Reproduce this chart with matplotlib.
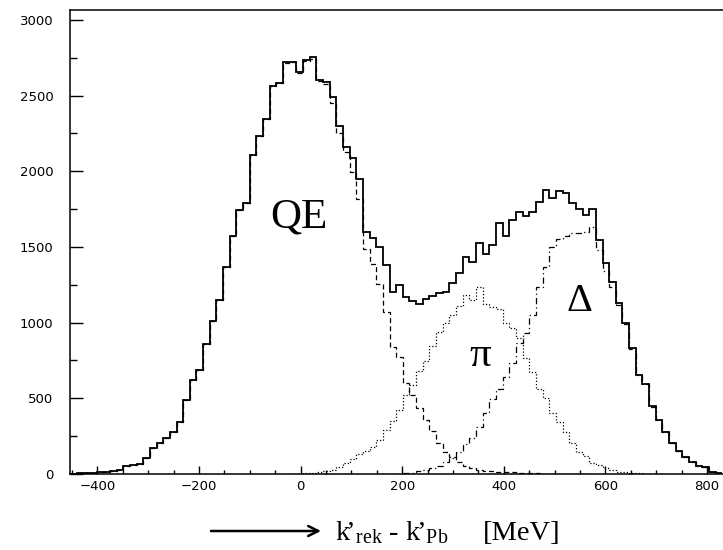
import numpy as np
import matplotlib
matplotlib.use("Agg")
import matplotlib.pyplot as plt
from matplotlib.ticker import MultipleLocator

# Histogram binning (MeV)
BIN_LO, BIN_HI = -454.0, 830.0

# Measured spectrum (counts per bin)
total = [
    3, 4, 4, 6,
    12, 15, 17,
    26,
    54, 58, 67,
    109, 169, 203, 236, 280, 346, 489, 623, 690,
    858, 1009, 1152, 1365, 1573, 1745, 1789, 2108, 2236, 2348,
    2566, 2582, 2720, 2724, 2655, 2736, 2755, 2606, 2590, 2493,
    2301, 2158, 2090, 1947, 1599, 1562, 1497, 1379, 1205, 1249,
    1168, 1142, 1125, 1158, 1178, 1193, 1205, 1262, 1326, 1436,
    1401, 1528, 1454, 1513, 1661, 1573, 1678, 1730, 1703, 1734,
    1799, 1879, 1825, 1872, 1855, 1793, 1749, 1712, 1749, 1546,
    1397, 1271, 1132, 998, 831, 657, 597, 447, 357, 280,
    205, 153, 114, 81, 53, 44, 15, 9,
]

# Quasi-elastic component
qe = [
    3, 4, 4, 6,
    12, 15, 17,
    26,
    54, 58, 67,
    109, 169, 203, 236, 280, 346, 489, 623, 690,
    858, 1009, 1152, 1365, 1573, 1745, 1789, 2108, 2236, 2348,
    2566, 2582, 2718, 2721, 2651, 2728, 2745, 2599, 2575, 2450,
    2255, 2130, 1995, 1815, 1490, 1385, 1255, 1070, 836, 773,
    603, 520, 434, 360, 285, 207, 147, 112, 81, 55,
    38, 26, 22, 18, 14, 12, 10, 8, 6, 5,
    4, 3, 3, 2, 2, 1, 1, 1, 0, 0,
    0, 0, 0, 0, 0, 0, 0, 0, 0, 0,
    0, 0, 0, 0, 0, 0, 0, 0,
]

# Pion production component
pion = [
    0, 0, 0, 0,
    0, 0, 0,
    0,
    0, 0, 0,
    0, 0, 0, 0, 0, 0, 0, 0, 0,
    0, 0, 0, 0, 0, 0, 0, 0, 0, 0,
    0, 0, 0, 2, 3, 5, 8, 12, 18, 28,
    48, 70, 100, 130, 155, 180, 225, 290, 350, 420,
    520, 590, 680, 745, 845, 940, 1000, 1050, 1110, 1180,
    1150, 1238, 1123, 1106, 1088, 996, 963, 900, 765, 676,
    560, 500, 401, 346, 278, 207, 147, 119, 71, 59,
    37, 24, 15, 10, 6, 4, 3, 2, 1, 0,
    0, 0, 0, 0, 0, 0, 0, 0,
]

# Delta excitation component
delta = [
    0, 0, 0, 0,
    0, 0, 0,
    0,
    0, 0, 0,
    0, 0, 0, 0, 0, 0, 0, 0, 0,
    0, 0, 0, 0, 0, 0, 0, 0, 0, 0,
    0, 0, 0, 0, 0, 0, 0, 0, 0, 0,
    0, 0, 0, 0, 0, 0, 0, 0, 2, 3,
    5, 9, 22, 25, 37, 53, 81, 103, 147, 200,
    235, 308, 401, 495, 560, 643, 731, 865, 934, 1051,
    1238, 1370, 1502, 1555, 1575, 1590, 1595, 1600, 1630, 1480,
    1340, 1234, 1117, 990, 825, 652, 594, 445, 356, 279,
    204, 152, 113, 80, 53, 44, 15, 9,
]

x_ticks = [-400, -200, 0, 200, 400, 600, 800]
y_ticks = [0, 500, 1000, 1500, 2000, 2500, 3000]

W, H = 723, 550
fig = plt.figure(figsize=(W / 100, H / 100), dpi=100)
ax = fig.add_axes([70 / W, 76 / H, 653 / W, 464 / H])

edges = np.linspace(BIN_LO, BIN_HI, len(total) + 1)


def draw(vals, **kw):
    v = np.asarray(vals, dtype=float)
    nz = np.nonzero(v)[0]
    lo, hi = nz[0], nz[-1] + 1
    ax.stairs(v[lo:hi], edges[lo:hi + 1], baseline=None, color="black", **kw)


draw(pion, lw=0.9, linestyle=(0, (1, 1.6)))
draw(delta, lw=0.9, linestyle=(0, (5, 2.5, 1, 2.5)))
draw(qe, lw=0.9, linestyle=(0, (4, 2.5)))
draw(total, lw=1.3, linestyle="-")

ax.set_xlim(BIN_LO, 831.3)
ax.set_ylim(0, 3066)

ax.set_xticks(x_ticks)
ax.set_yticks(y_ticks)
ax.set_xticklabels(["\u2212400", "\u2212200", "0", "200", "400", "600", "800"])
ax.xaxis.set_minor_locator(MultipleLocator(50))
ax.yaxis.set_minor_locator(MultipleLocator(250))

ax.tick_params(which="both", direction="in", top=False, right=False, width=1.0,
               labelsize=9.5, colors="black")
ax.tick_params(axis="x", which="major", length=5.8, pad=4.5)
ax.tick_params(axis="x", which="minor", length=2.9)
ax.tick_params(axis="y", which="major", length=9.4, pad=12)
ax.tick_params(axis="y", which="minor", length=5.0)

for side in ("left", "bottom", "top"):
    ax.spines[side].set_linewidth(1.1)
ax.spines["right"].set_visible(False)

serif = "Liberation Serif"
ax.text(-3, 1632, "QE", family=serif, fontsize=31, ha="center", va="baseline")
ax.text(353, 780, "\u03c0", family=serif, fontsize=31, ha="center", va="center")
ax.text(548, 1137, "\u0394", family=serif, fontsize=29, ha="center", va="center")

# axis caption with arrow
plt.rcParams["mathtext.fontset"] = "custom"
plt.rcParams["mathtext.rm"] = serif
plt.rcParams["mathtext.it"] = serif + ":italic"
ax.annotate("", xy=(321 / W, 1 - 531 / H), xytext=(211 / W, 1 - 531 / H),
            xycoords="figure fraction", textcoords="figure fraction",
            arrowprops=dict(arrowstyle="->", lw=1.8, mutation_scale=18,
                            color="black", shrinkA=0, shrinkB=0))
fig.text(335 / W, 1 - 540 / H,
         r"$\mathrm{k\!’_{rek}}$ - $\mathrm{k\!’_{Pb}}$",
         family=serif, fontsize=20.5, ha="left", va="baseline")
fig.text(483 / W, 1 - 540 / H, "[MeV]",
         family=serif, fontsize=20.5, ha="left", va="baseline")

fig.savefig("out.png", dpi=100)
